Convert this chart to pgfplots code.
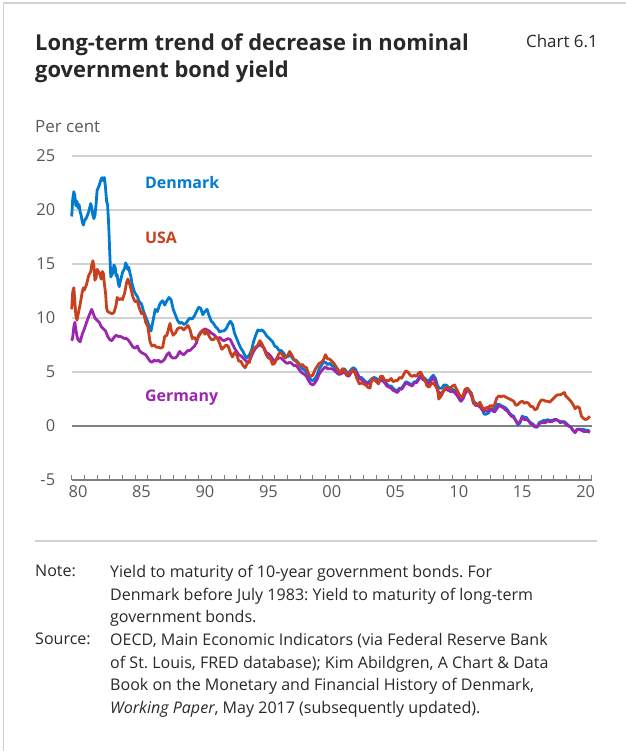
\documentclass[border=0pt]{standalone}
\usepackage{pgfplots}
\pgfplotsset{compat=1.18}
\usepackage{fontspec}
\setmainfont{Open Sans}
\frenchspacing
\definecolor{dkblue}{RGB}{0,123,208}
\definecolor{usred}{RGB}{200,64,30}
\definecolor{depurple}{RGB}{155,39,175}
\definecolor{txtgray}{RGB}{89,89,89}
\definecolor{titlegray}{RGB}{40,40,40}
\definecolor{gridgray}{RGB}{210,210,210}
\definecolor{zerogray}{RGB}{128,128,128}
\begin{document}
\begin{tikzpicture}
\path[use as bounding box] (0,0) rectangle (626bp,-751bp);
\draw[gridgray, line width=1.2bp] (3.5bp,-751bp) -- (3.5bp,-3bp) -- (626bp,-3bp);
\node[anchor=north west, align=left, text=titlegray, font=\bfseries\fontsize{22}{27}\selectfont, inner sep=0] at (35bp,-34bp) {Long-term trend of decrease in nominal\\government bond yield};
\node[anchor=north east, text=titlegray, font=\fontsize{17}{20}\selectfont, inner sep=0] at (598bp,-34bp) {Chart 6.1};
\node[anchor=west, text=txtgray, font=\fontsize{17}{20}\selectfont, inner sep=0] at (35bp,-127bp) {Per cent};
\begin{axis}[
  at={(71.7bp,-480bp)}, anchor=south west,
  scale only axis, width=520.3bp, height=324bp,
  xmin=1980, xmax=2021, ymin=-5, ymax=25,
  axis x line*=bottom, axis y line*=left,
  x axis line style={zerogray, line width=1.2bp},
  y axis line style={draw=none},
  xtick={1980,...,2021}, xticklabels={},
  xtick align=inside, major tick length=5bp,
  x tick style={zerogray, line width=0.9bp},
  extra x ticks={1980.5,1985.5,1990.5,1995.5,2000.5,2005.5,2010.5,2015.5,2020.5},
  extra x tick labels={80,85,90,95,00,05,10,15,20},
  extra x tick style={major tick length=0pt, grid=none},
  ytick={-5,5,10,15,20,25},
  ymajorgrids, grid style={gridgray, line width=1.2bp},
  y tick style={draw=none},
  extra y ticks={0},
  extra y tick style={grid style={zerogray, line width=1.2bp}, y tick style={draw=none}},
  tick label style={text=txtgray, font=\fontsize{16.5}{19}\selectfont},
  /pgf/number format/assume math mode=true,
  yticklabel style={anchor=east, xshift=-13bp},
  xticklabel style={yshift=-2bp},
  clip=false,
]
\addplot[dkblue, line width=2.8bp, line join=round] coordinates {
(1980.00,19.4)(1980.08,21.0)(1980.17,21.7)(1980.25,21.3)(1980.33,20.4)(1980.42,20.8)(1980.50,20.2)(1980.58,20.5)(1980.67,19.8)(1980.75,19.5)(1980.83,18.9)(1980.92,18.6)
(1981.00,19.0)(1981.17,19.3)(1981.33,19.8)(1981.50,20.6)(1981.58,20.2)(1981.67,19.5)(1981.75,19.2)(1981.83,19.5)(1981.92,20.5)
(1982.00,21.8)(1982.17,22.3)(1982.33,22.9)(1982.42,23.0)(1982.50,22.7)(1982.58,23.0)(1982.67,22.0)(1982.75,20.8)(1982.83,20.5)(1982.92,18.5)
(1983.00,16.0)(1983.08,13.8)(1983.25,14.2)(1983.33,14.9)(1983.42,14.7)(1983.50,13.9)(1983.58,14.0)(1983.67,13.2)(1983.75,12.9)(1983.83,13.4)(1983.92,13.8)
(1984.00,14.2)(1984.17,14.6)(1984.25,15.1)(1984.33,14.9)(1984.42,14.5)(1984.50,14.7)(1984.58,14.2)(1984.67,13.8)(1984.75,13.2)(1984.92,12.5)
(1985.00,12.3)(1985.17,12.0)(1985.33,11.5)(1985.50,11.3)(1985.67,10.6)(1985.83,10.1)
(1986.00,9.6)(1986.17,9.0)(1986.25,8.8)(1986.42,9.8)(1986.58,10.8)(1986.75,10.6)(1986.92,11.2)
(1987.00,11.4)(1987.17,11.6)(1987.33,11.2)(1987.50,11.6)(1987.67,11.9)(1987.83,11.7)
(1988.00,10.8)(1988.17,10.3)(1988.33,9.8)(1988.50,9.5)(1988.67,9.6)(1988.83,9.4)
(1989.00,9.5)(1989.17,9.8)(1989.33,10.0)(1989.50,9.9)(1989.67,10.2)(1989.83,10.6)
(1990.00,11.0)(1990.17,10.9)(1990.33,10.3)(1990.50,10.6)(1990.67,10.8)(1990.83,10.2)
(1991.00,9.7)(1991.17,9.5)(1991.33,9.2)(1991.50,9.0)(1991.67,8.7)(1991.83,8.8)
(1992.00,8.8)(1992.17,9.0)(1992.33,9.4)(1992.50,9.7)(1992.67,9.4)(1992.83,8.6)
(1993.00,8.1)(1993.17,7.6)(1993.33,7.2)(1993.50,6.9)(1993.67,6.5)(1993.83,6.3)
(1994.00,6.6)(1994.17,7.0)(1994.33,7.8)(1994.50,8.4)(1994.67,8.9)(1994.83,8.8)
(1995.00,8.9)(1995.17,8.7)(1995.33,8.4)(1995.50,8.2)(1995.67,8.0)(1995.83,7.8)
(1996.00,7.4)(1996.17,7.3)(1996.33,7.0)(1996.50,7.0)(1996.67,6.8)(1996.83,6.5)
(1997.00,6.4)(1997.17,6.6)(1997.33,6.4)(1997.50,6.1)(1997.67,6.1)(1997.83,5.9)
(1998.00,5.6)(1998.17,5.3)(1998.33,5.2)(1998.50,5.0)(1998.67,4.7)(1998.83,4.3)
(1999.00,4.2)(1999.17,4.4)(1999.33,4.7)(1999.50,5.3)(1999.67,5.6)(1999.83,5.9)
(2000.00,5.9)(2000.17,5.7)(2000.33,5.8)(2000.50,5.6)(2000.67,5.5)(2000.83,5.1)
(2001.00,5.0)(2001.17,5.0)(2001.33,5.2)(2001.50,5.3)(2001.67,5.0)(2001.83,4.9)
(2002.00,5.2)(2002.17,5.4)(2002.33,5.3)(2002.50,4.9)(2002.67,4.5)(2002.83,4.5)
(2003.00,4.3)(2003.17,4.1)(2003.33,4.0)(2003.50,4.2)(2003.67,4.4)(2003.83,4.5)
(2004.00,4.4)(2004.17,4.2)(2004.33,4.4)(2004.50,4.4)(2004.67,4.2)(2004.83,3.9)
(2005.00,3.7)(2005.17,3.7)(2005.33,3.5)(2005.50,3.3)(2005.67,3.3)(2005.83,3.5)
(2006.00,3.5)(2006.17,3.8)(2006.33,4.1)(2006.50,4.0)(2006.67,3.9)(2006.83,3.8)
(2007.00,4.1)(2007.17,4.1)(2007.33,4.4)(2007.50,4.7)(2007.67,4.5)(2007.83,4.4)
(2008.00,4.2)(2008.17,4.2)(2008.33,4.5)(2008.50,4.7)(2008.67,4.4)(2008.83,3.7)
(2009.00,3.5)(2009.17,3.5)(2009.33,3.8)(2009.50,3.8)(2009.67,3.6)(2009.83,3.5)
(2010.00,3.4)(2010.17,3.3)(2010.33,3.0)(2010.50,2.6)(2010.67,2.3)(2010.83,2.6)
(2011.00,3.1)(2011.17,3.5)(2011.33,3.3)(2011.50,3.0)(2011.67,2.3)(2011.83,2.1)
(2012.00,1.9)(2012.17,1.8)(2012.33,1.6)(2012.50,1.1)(2012.67,1.1)(2012.83,1.2)
(2013.00,1.5)(2013.17,1.6)(2013.33,1.6)(2013.50,2.0)(2013.67,2.0)(2013.83,1.9)
(2014.00,1.8)(2014.17,1.7)(2014.33,1.5)(2014.50,1.2)(2014.67,1.0)(2014.83,0.9)
(2015.00,0.5)(2015.17,0.1)(2015.33,0.3)(2015.50,0.9)(2015.67,0.8)(2015.83,0.8)
(2016.00,0.5)(2016.17,0.3)(2016.33,0.2)(2016.50,0.0)(2016.67,-0.1)(2016.83,0.3)
(2017.00,0.4)(2017.17,0.5)(2017.33,0.5)(2017.50,0.6)(2017.67,0.5)(2017.83,0.5)
(2018.00,0.5)(2018.17,0.6)(2018.33,0.5)(2018.50,0.4)(2018.67,0.4)(2018.83,0.4)
(2019.00,0.2)(2019.17,0.0)(2019.33,-0.1)(2019.50,-0.4)(2019.67,-0.6)(2019.83,-0.3)
(2020.00,-0.3)(2020.17,-0.3)(2020.33,-0.3)(2020.50,-0.4)(2020.67,-0.4)(2020.83,-0.5)
};
\addplot[depurple, line width=2.8bp, line join=round] coordinates {
(1980.00,7.9)(1980.08,8.2)(1980.17,9.2)(1980.25,9.6)(1980.33,8.9)(1980.42,8.3)(1980.50,8.0)(1980.67,7.8)(1980.83,8.5)
(1981.00,9.0)(1981.17,9.6)(1981.33,10.1)(1981.50,10.6)(1981.58,10.8)(1981.67,10.5)(1981.83,10.0)
(1982.00,9.8)(1982.17,9.6)(1982.33,9.2)(1982.50,9.0)(1982.67,8.8)(1982.83,8.3)
(1983.00,8.0)(1983.17,7.9)(1983.33,8.2)(1983.50,8.4)(1983.67,8.3)(1983.83,8.3)
(1984.00,8.2)(1984.17,8.1)(1984.33,8.1)(1984.50,7.9)(1984.67,7.6)(1984.83,7.3)
(1985.00,7.2)(1985.17,7.4)(1985.33,7.0)(1985.50,6.8)(1985.67,6.7)(1985.83,6.6)
(1986.00,6.3)(1986.17,6.0)(1986.33,5.9)(1986.50,6.1)(1986.67,6.0)(1986.83,6.1)
(1987.00,5.9)(1987.17,6.0)(1987.33,6.2)(1987.50,6.6)(1987.67,6.8)(1987.83,6.4)
(1988.00,6.3)(1988.17,6.3)(1988.33,6.5)(1988.50,6.9)(1988.67,6.7)(1988.83,6.6)
(1989.00,6.8)(1989.17,7.0)(1989.33,7.0)(1989.50,7.2)(1989.67,7.4)(1989.83,7.7)
(1990.00,8.4)(1990.17,8.7)(1990.33,8.8)(1990.50,9.0)(1990.67,8.9)(1990.83,8.8)
(1991.00,8.6)(1991.17,8.5)(1991.33,8.3)(1991.50,8.1)(1991.67,8.2)(1991.83,8.0)
(1992.00,7.9)(1992.17,8.0)(1992.33,8.1)(1992.50,8.0)(1992.67,7.6)(1992.83,7.2)
(1993.00,6.9)(1993.17,6.6)(1993.33,6.5)(1993.50,6.3)(1993.67,6.1)(1993.83,5.9)
(1994.00,6.0)(1994.17,6.5)(1994.33,6.9)(1994.50,7.2)(1994.67,7.4)(1994.83,7.5)
(1995.00,7.4)(1995.17,7.2)(1995.33,6.8)(1995.50,6.7)(1995.67,6.5)(1995.83,6.2)
(1996.00,6.0)(1996.17,6.2)(1996.33,6.3)(1996.50,6.3)(1996.67,6.1)(1996.83,5.9)
(1997.00,5.8)(1997.17,5.9)(1997.33,5.8)(1997.50,5.6)(1997.67,5.6)(1997.83,5.4)
(1998.00,5.1)(1998.17,4.9)(1998.33,4.8)(1998.50,4.6)(1998.67,4.2)(1998.83,3.9)
(1999.00,3.8)(1999.17,4.0)(1999.33,4.3)(1999.50,4.8)(1999.67,5.1)(1999.83,5.3)
(2000.00,5.5)(2000.17,5.3)(2000.33,5.3)(2000.50,5.3)(2000.67,5.2)(2000.83,5.0)
(2001.00,4.8)(2001.17,4.8)(2001.33,4.9)(2001.50,5.0)(2001.67,4.7)(2001.83,4.6)
(2002.00,4.9)(2002.17,5.2)(2002.33,5.1)(2002.50,4.8)(2002.67,4.4)(2002.83,4.3)
(2003.00,4.1)(2003.17,4.0)(2003.33,3.9)(2003.50,4.0)(2003.67,4.2)(2003.83,4.3)
(2004.00,4.2)(2004.17,4.0)(2004.33,4.2)(2004.50,4.2)(2004.67,4.0)(2004.83,3.7)
(2005.00,3.6)(2005.17,3.5)(2005.33,3.3)(2005.50,3.2)(2005.67,3.1)(2005.83,3.4)
(2006.00,3.4)(2006.17,3.7)(2006.33,4.0)(2006.50,3.9)(2006.67,3.8)(2006.83,3.7)
(2007.00,4.0)(2007.17,4.0)(2007.33,4.3)(2007.50,4.6)(2007.67,4.3)(2007.83,4.2)
(2008.00,4.0)(2008.17,3.9)(2008.33,4.2)(2008.50,4.5)(2008.67,4.1)(2008.83,3.3)
(2009.00,3.0)(2009.17,3.1)(2009.33,3.3)(2009.50,3.4)(2009.67,3.3)(2009.83,3.2)
(2010.00,3.2)(2010.17,3.1)(2010.33,2.9)(2010.50,2.6)(2010.67,2.3)(2010.83,2.5)
(2011.00,3.0)(2011.17,3.3)(2011.33,3.2)(2011.50,2.8)(2011.67,2.1)(2011.83,1.9)
(2012.00,1.9)(2012.17,1.8)(2012.33,1.5)(2012.50,1.4)(2012.67,1.4)(2012.83,1.4)
(2013.00,1.6)(2013.17,1.4)(2013.33,1.3)(2013.50,1.6)(2013.67,1.9)(2013.83,1.8)
(2014.00,1.7)(2014.17,1.5)(2014.33,1.4)(2014.50,1.1)(2014.67,0.9)(2014.83,0.8)
(2015.00,0.5)(2015.17,0.2)(2015.33,0.4)(2015.50,0.8)(2015.67,0.6)(2015.83,0.6)
(2016.00,0.5)(2016.17,0.2)(2016.33,0.1)(2016.50,-0.1)(2016.67,-0.1)(2016.83,0.2)
(2017.00,0.3)(2017.17,0.3)(2017.33,0.3)(2017.50,0.5)(2017.67,0.4)(2017.83,0.4)
(2018.00,0.6)(2018.17,0.6)(2018.33,0.5)(2018.50,0.3)(2018.67,0.4)(2018.83,0.3)
(2019.00,0.1)(2019.17,0.0)(2019.33,-0.1)(2019.50,-0.4)(2019.67,-0.6)(2019.83,-0.3)
(2020.00,-0.3)(2020.17,-0.4)(2020.33,-0.5)(2020.50,-0.5)(2020.67,-0.5)(2020.83,-0.6)
};
\addplot[usred, line width=2.8bp, line join=round] coordinates {
(1980.00,10.8)(1980.08,12.4)(1980.17,12.8)(1980.25,11.5)(1980.33,10.2)(1980.42,9.8)(1980.50,10.3)(1980.67,11.3)(1980.83,12.4)(1980.92,12.8)
(1981.00,12.6)(1981.17,13.1)(1981.33,13.9)(1981.50,14.3)(1981.58,14.9)(1981.67,15.3)(1981.75,14.8)(1981.83,13.5)(1981.92,13.7)
(1982.00,14.5)(1982.17,14.2)(1982.33,13.6)(1982.42,14.3)(1982.50,14.1)(1982.58,13.1)(1982.67,12.3)(1982.75,10.9)(1982.83,10.6)
(1983.00,10.5)(1983.17,10.4)(1983.33,10.5)(1983.50,11.2)(1983.58,11.9)(1983.75,11.7)(1983.92,11.8)
(1984.00,11.7)(1984.17,12.3)(1984.33,13.3)(1984.42,13.6)(1984.50,13.4)(1984.67,12.7)(1984.83,11.9)
(1985.00,11.5)(1985.17,11.6)(1985.33,10.9)(1985.50,10.4)(1985.67,10.5)(1985.83,9.6)
(1986.00,9.2)(1986.17,7.8)(1986.33,7.4)(1986.50,7.5)(1986.67,7.3)(1986.83,7.3)
(1987.00,7.2)(1987.17,7.3)(1987.33,8.3)(1987.50,8.4)(1987.67,9.2)(1987.75,9.5)(1987.83,8.9)
(1988.00,8.4)(1988.17,8.6)(1988.33,9.0)(1988.50,9.1)(1988.67,9.1)(1988.83,8.9)
(1989.00,9.1)(1989.17,9.3)(1989.33,8.9)(1989.50,8.1)(1989.67,8.2)(1989.83,7.9)
(1990.00,8.3)(1990.17,8.6)(1990.33,8.9)(1990.50,8.5)(1990.67,8.8)(1990.83,8.3)
(1991.00,8.0)(1991.17,8.0)(1991.33,8.2)(1991.50,8.1)(1991.67,7.6)(1991.83,7.1)
(1992.00,7.3)(1992.17,7.5)(1992.33,7.4)(1992.50,6.8)(1992.67,6.4)(1992.83,6.8)
(1993.00,6.6)(1993.17,6.0)(1993.33,6.0)(1993.50,5.6)(1993.67,5.4)(1993.83,5.8)
(1994.00,5.9)(1994.17,6.8)(1994.33,7.1)(1994.50,7.3)(1994.67,7.5)(1994.83,7.9)
(1995.00,7.6)(1995.17,7.1)(1995.33,6.6)(1995.50,6.3)(1995.67,6.2)(1995.83,5.7)
(1996.00,5.8)(1996.17,6.3)(1996.33,6.7)(1996.50,6.8)(1996.67,6.5)(1996.83,6.3)
(1997.00,6.5)(1997.17,6.9)(1997.33,6.6)(1997.50,6.2)(1997.67,6.0)(1997.83,5.8)
(1998.00,5.6)(1998.17,5.7)(1998.33,5.5)(1998.50,5.4)(1998.67,4.8)(1998.83,4.6)
(1999.00,4.7)(1999.17,5.2)(1999.33,5.5)(1999.50,5.8)(1999.67,5.9)(1999.83,6.1)
(2000.00,6.6)(2000.17,6.2)(2000.33,6.2)(2000.50,6.0)(2000.67,5.8)(2000.83,5.5)
(2001.00,5.2)(2001.17,4.9)(2001.33,5.3)(2001.50,5.2)(2001.67,4.7)(2001.83,4.9)
(2002.00,5.0)(2002.17,5.2)(2002.33,4.9)(2002.50,4.3)(2002.67,3.9)(2002.83,4.0)
(2003.00,3.9)(2003.17,3.8)(2003.33,3.6)(2003.50,3.5)(2003.67,4.4)(2003.83,4.3)
(2004.00,4.1)(2004.17,3.9)(2004.33,4.6)(2004.50,4.6)(2004.67,4.2)(2004.83,4.2)
(2005.00,4.2)(2005.17,4.4)(2005.33,4.1)(2005.50,4.2)(2005.67,4.2)(2005.83,4.5)
(2006.00,4.4)(2006.17,4.8)(2006.33,5.1)(2006.50,5.0)(2006.67,4.7)(2006.83,4.6)
(2007.00,4.7)(2007.17,4.6)(2007.33,4.9)(2007.50,5.0)(2007.67,4.6)(2007.83,4.3)
(2008.00,3.7)(2008.17,3.6)(2008.33,3.9)(2008.50,4.0)(2008.67,3.7)(2008.83,3.4)(2008.92,2.5)
(2009.00,2.6)(2009.17,2.9)(2009.33,3.3)(2009.50,3.6)(2009.67,3.5)(2009.83,3.5)
(2010.00,3.7)(2010.17,3.8)(2010.33,3.4)(2010.50,3.0)(2010.67,2.7)(2010.83,2.8)
(2011.00,3.4)(2011.17,3.5)(2011.33,3.2)(2011.50,3.0)(2011.67,2.1)(2011.83,2.0)
(2012.00,2.0)(2012.17,2.2)(2012.33,1.8)(2012.50,1.5)(2012.67,1.7)(2012.83,1.7)
(2013.00,1.9)(2013.17,1.8)(2013.33,2.0)(2013.50,2.6)(2013.67,2.8)(2013.83,2.7)
(2014.00,2.8)(2014.17,2.7)(2014.33,2.6)(2014.50,2.5)(2014.67,2.4)(2014.83,2.3)
(2015.00,1.9)(2015.17,2.0)(2015.33,2.2)(2015.50,2.3)(2015.67,2.1)(2015.83,2.2)
(2016.00,2.1)(2016.17,1.8)(2016.33,1.8)(2016.50,1.5)(2016.67,1.6)(2016.83,2.1)
(2017.00,2.4)(2017.17,2.4)(2017.33,2.3)(2017.50,2.3)(2017.67,2.2)(2017.83,2.4)
(2018.00,2.6)(2018.17,2.8)(2018.33,2.9)(2018.50,2.9)(2018.67,3.0)(2018.83,3.1)(2018.92,2.8)
(2019.00,2.7)(2019.17,2.5)(2019.33,2.3)(2019.50,2.0)(2019.67,1.6)(2019.83,1.8)
(2020.00,1.7)(2020.17,0.9)(2020.33,0.7)(2020.50,0.6)(2020.67,0.7)(2020.83,0.9)
};
\node[anchor=west, text=dkblue, font=\bfseries\fontsize{16}{19}\selectfont, inner sep=0] at (axis cs:1985.77,22.5) {Denmark};
\node[anchor=west, text=usred, font=\bfseries\fontsize{16}{19}\selectfont, inner sep=0] at (axis cs:1985.77,17.4) {USA};
\node[anchor=west, text=depurple, font=\bfseries\fontsize{16}{19}\selectfont, inner sep=0] at (axis cs:1985.77,2.6) {Germany};
\end{axis}
\draw[gridgray, line width=1.2bp] (35bp,-541bp) -- (597bp,-541bp);
\node[anchor=north west, text=titlegray, font=\fontsize{16.1}{22.7}\selectfont, inner sep=0] at (35bp,-565bp) {Note:};
\node[anchor=north west, align=left, text=titlegray, font=\fontsize{16.1}{22.7}\selectfont, inner sep=0] at (110bp,-565bp) {Yield to maturity of 10-year government bonds. For\\Denmark before July 1983: Yield to maturity of long-term\\government bonds.};
\node[anchor=north west, text=titlegray, font=\fontsize{16.1}{22.7}\selectfont, inner sep=0] at (35bp,-633bp) {Source:};
\node[anchor=north west, align=left, text=titlegray, font=\fontsize{16.1}{22.7}\selectfont, inner sep=0] at (110bp,-633bp) {OECD, Main Economic Indicators (via Federal Reserve Bank\\of St. Louis, FRED database); Kim Abildgren, A Chart \& Data\\Book on the Monetary and Financial History of Denmark,\\\textit{Working Paper}, May 2017 (subsequently updated).};
\end{tikzpicture}
\end{document}
